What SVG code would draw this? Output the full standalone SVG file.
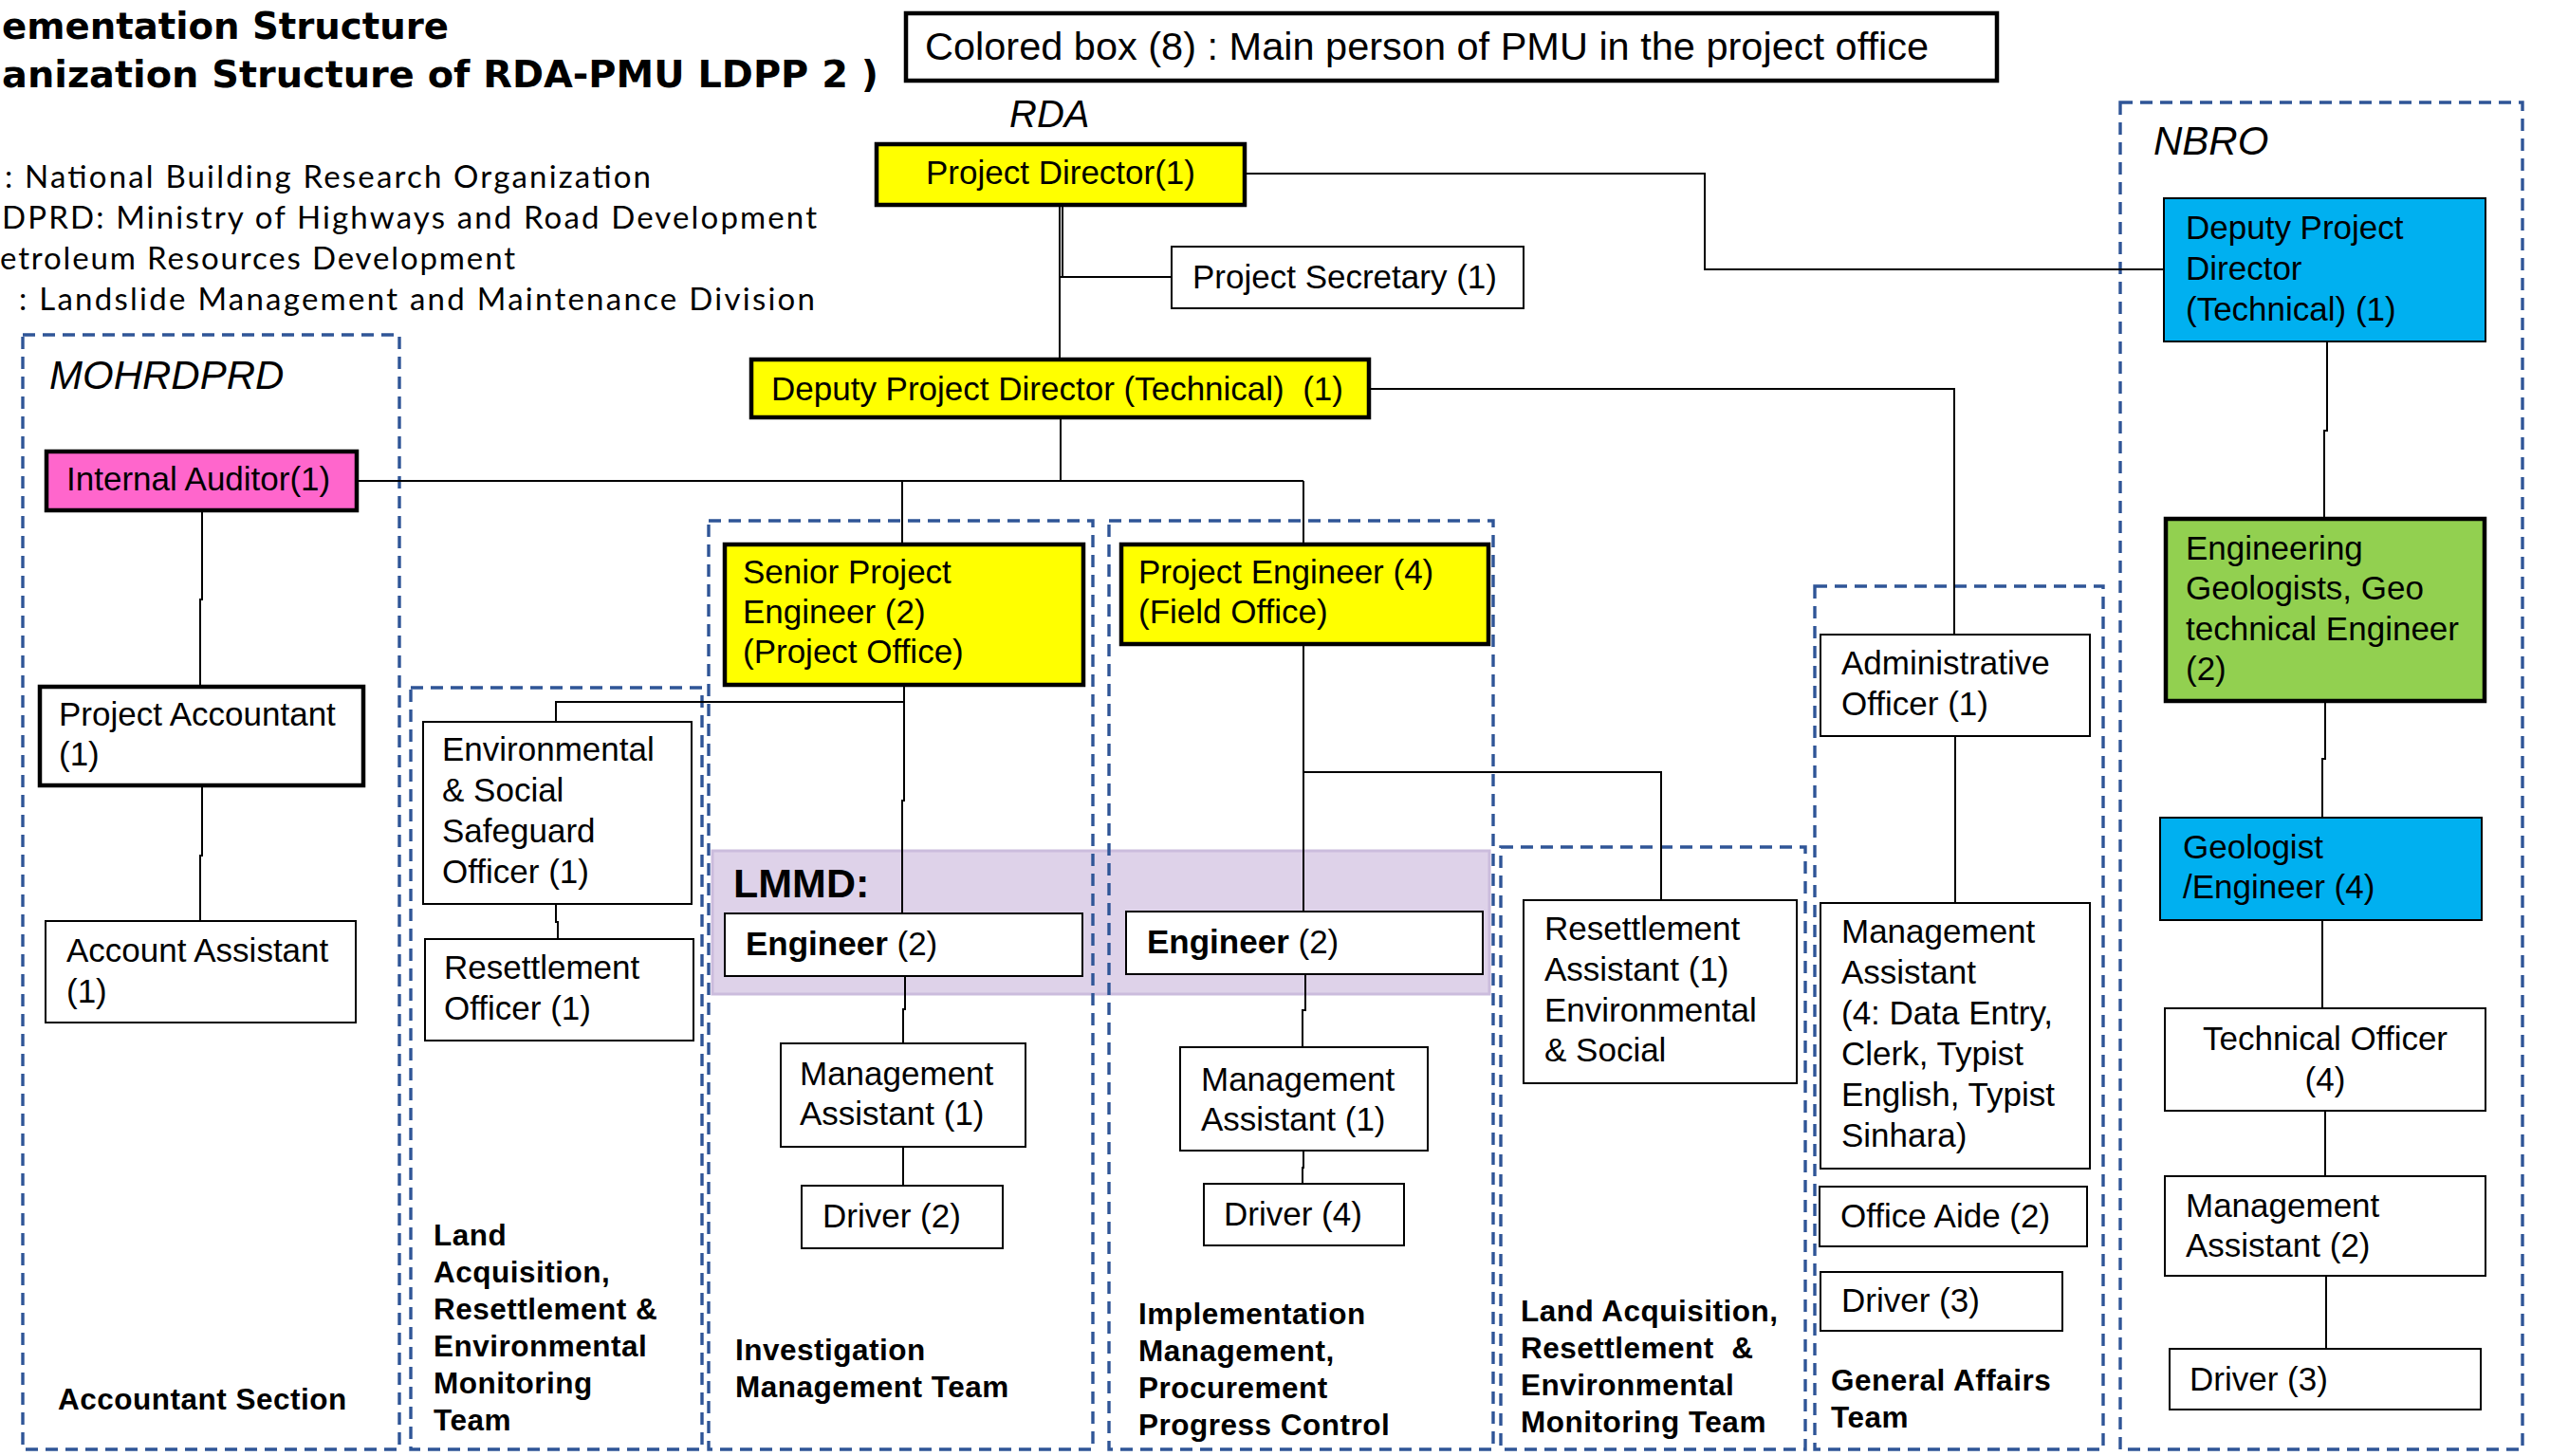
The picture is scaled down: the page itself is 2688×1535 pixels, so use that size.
<svg xmlns="http://www.w3.org/2000/svg" width="2688" height="1535" viewBox="0 0 2688 1535">
  <style>
    .box { fill: #ffffff; stroke: #000000; stroke-width: 2; }
    .thick { stroke-width: 4.5; }
    .yellow { fill: #ffff00; }
    .pink { fill: #ff66cc; }
    .cyan { fill: #00b0f0; }
    .green { fill: #92d050; }
    .dash { fill: none; stroke: #2f5597; stroke-width: 3.4; stroke-dasharray: 13 8; }
    .wire { fill: none; stroke: #000000; stroke-width: 2; }
    .t { font-family: "Liberation Sans", Arial, sans-serif; font-size: 35px; fill: #000000; }
    .b { font-weight: bold; }
    .team { font-family: "Liberation Sans", Arial, sans-serif; font-size: 31.5px; font-weight: bold; letter-spacing: 0.5px; fill: #000000; }
    .org { font-family: "Liberation Sans", Arial, sans-serif; font-size: 42px; font-style: italic; fill: #000000; }
    .title { font-family: "DejaVu Sans", "Noto Sans", sans-serif; font-size: 39px; font-weight: bold; fill: #000000; }
    .abbr { font-family: Lato, "Noto Sans", sans-serif; font-size: 33px; font-weight: normal; fill: #000000; }
  </style>

  <rect width="2688" height="1535" fill="#ffffff"/>

  <!-- heading and abbreviations -->
  <g id="heading">
    <text class="title" x="2" y="41" textLength="471" lengthAdjust="spacingAndGlyphs">ementation Structure</text>
    <text class="title" x="2" y="92" textLength="924" lengthAdjust="spacingAndGlyphs">anization Structure of RDA-PMU LDPP 2 )</text>
    <text class="abbr" x="5" y="198" textLength="681" lengthAdjust="spacing">: National Building Research Organization</text>
    <text class="abbr" x="2" y="241" textLength="859" lengthAdjust="spacing">DPRD: Ministry of Highways and Road Development</text>
    <text class="abbr" x="0" y="284" textLength="543" lengthAdjust="spacing">etroleum Resources Development</text>
    <text class="abbr" x="20" y="327" textLength="839" lengthAdjust="spacing">: Landslide Management and Maintenance Division</text>
  </g>

  <g id="legend">
    <rect class="box thick" x="955" y="14" width="1150" height="71"/>
    <text class="t" x="975" y="63" style="font-size:41.5px">Colored box (8) : Main person of PMU in the project office</text>
  </g>

  <!-- LMMD band behind the engineer boxes -->
  <g id="lmmd-band">
    <rect x="751" y="897" width="819" height="151" fill="#dcd0e8" stroke="#cbbcdd" stroke-width="3" fill-opacity="0.95"/>
    <text class="t b" x="773" y="946" style="font-size:43px">LMMD:</text>
  </g>

  <!-- organisation / team frames -->
  <g id="frames">
    <rect id="frame-mohrdprd" class="dash" x="24" y="353" width="397" height="1175"/>
    <rect id="frame-land-1" class="dash" x="433" y="725" width="307" height="803"/>
    <rect id="frame-investigation" class="dash" x="747" y="549" width="405" height="979"/>
    <rect id="frame-implementation" class="dash" x="1169" y="549" width="405" height="979"/>
    <rect id="frame-land-2" class="dash" x="1582" y="893" width="321" height="635"/>
    <rect id="frame-general" class="dash" x="1913" y="618" width="304" height="910"/>
    <rect id="frame-nbro" class="dash" x="2235" y="108" width="424" height="1420"/>
    <text class="org" x="1064" y="134" style="font-size:40px">RDA</text>
    <text class="org" x="52" y="410">MOHRDPRD</text>
    <text class="org" x="2270" y="163">NBRO</text>
  </g>

  <g id="connectors" class="wire">
    <path d="M1120 218V292"/>
    <path d="M1117 218V377"/>
    <path d="M1118 292H1235"/>
    <path d="M1314 183H1797V284H2281"/>
    <path d="M1445 410H2060V669"/>
    <path d="M1118 442V507"/>
    <path d="M378 507H1374"/>
    <path d="M951 507V572"/>
    <path d="M1374 507V572"/>
    <path d="M953 724V844H951V963"/>
    <path d="M953 740H586V761"/>
    <path d="M586 953V972H588V990"/>
    <path d="M213 540V632H211V722"/>
    <path d="M213 830V902H211V970"/>
    <path d="M954 1029V1064H952V1100"/>
    <path d="M952 1209V1250"/>
    <path d="M1374 681V961"/>
    <path d="M1374 814H1751V949"/>
    <path d="M1376 1027V1065H1373V1104"/>
    <path d="M1374 1213V1231H1373V1248"/>
    <path d="M2061 776V952"/>
    <path d="M2453 360V454H2450V545"/>
    <path d="M2451 741V800H2448V862"/>
    <path d="M2448 970V1063"/>
    <path d="M2451 1171V1240"/>
    <path d="M2452 1345V1422"/>
  </g>

  <!-- RDA -->
  <g id="project-director">
    <rect class="box thick yellow" x="924" y="152" width="388" height="64"/>
    <text class="t" x="1118" y="194" text-anchor="middle">Project Director(1)</text>
  </g>
  <g id="project-secretary">
    <rect class="box" x="1235" y="260" width="371" height="65"/>
    <text class="t" x="1257" y="304">Project Secretary (1)</text>
  </g>
  <g id="deputy-director-rda">
    <rect class="box thick yellow" x="792" y="379" width="651" height="61"/>
    <text class="t" x="813" y="422" xml:space="preserve">Deputy Project Director (Technical)  (1)</text>
  </g>

  <!-- MOHRDPRD accountant section -->
  <g id="internal-auditor">
    <rect class="box thick pink" x="49" y="476" width="327" height="62"/>
    <text class="t" x="70" y="517">Internal Auditor(1)</text>
  </g>
  <g id="project-accountant">
    <rect class="box thick" x="42" y="724" width="341" height="104"/>
    <text class="t" x="62" y="765">Project Accountant</text>
    <text class="t" x="62" y="807">(1)</text>
  </g>
  <g id="account-assistant">
    <rect class="box" x="48" y="971" width="327" height="107"/>
    <text class="t" x="70" y="1014">Account Assistant</text>
    <text class="t" x="70" y="1057">(1)</text>
  </g>
  <g id="label-accountant">
    <text class="team" x="61" y="1486">Accountant Section</text>
  </g>

  <!-- land acquisition monitoring (office) -->
  <g id="env-social-officer">
    <rect class="box" x="446" y="761" width="283" height="192"/>
    <text class="t" x="466" y="802">Environmental</text>
    <text class="t" x="466" y="845">&amp; Social</text>
    <text class="t" x="466" y="888">Safeguard</text>
    <text class="t" x="466" y="931">Officer (1)</text>
  </g>
  <g id="resettlement-officer">
    <rect class="box" x="448" y="990" width="283" height="107"/>
    <text class="t" x="468" y="1032">Resettlement</text>
    <text class="t" x="468" y="1075">Officer (1)</text>
  </g>
  <g id="label-land-1">
    <text class="team" x="457" y="1313">Land</text>
    <text class="team" x="457" y="1352">Acquisition,</text>
    <text class="team" x="457" y="1391">Resettlement &amp;</text>
    <text class="team" x="457" y="1430">Environmental</text>
    <text class="team" x="457" y="1469">Monitoring</text>
    <text class="team" x="457" y="1508">Team</text>
  </g>

  <!-- investigation management team -->
  <g id="senior-project-engineer">
    <rect class="box thick yellow" x="764" y="574" width="378" height="148"/>
    <text class="t" x="783" y="615">Senior Project</text>
    <text class="t" x="783" y="657">Engineer (2)</text>
    <text class="t" x="783" y="699">(Project Office)</text>
  </g>
  <g id="engineer-investigation">
    <rect class="box" x="764" y="963" width="377" height="66"/>
    <text class="t" x="786" y="1007"><tspan class="b">Engineer</tspan> (2)</text>
  </g>
  <g id="management-assistant-investigation">
    <rect class="box" x="823" y="1100" width="258" height="109"/>
    <text class="t" x="843" y="1144">Management</text>
    <text class="t" x="843" y="1186">Assistant (1)</text>
  </g>
  <g id="driver-investigation">
    <rect class="box" x="845" y="1250" width="212" height="66"/>
    <text class="t" x="867" y="1294">Driver (2)</text>
  </g>
  <g id="label-investigation">
    <text class="team" x="775" y="1434">Investigation</text>
    <text class="team" x="775" y="1473">Management Team</text>
  </g>

  <!-- implementation team -->
  <g id="project-engineer">
    <rect class="box thick yellow" x="1182" y="574" width="387" height="105"/>
    <text class="t" x="1200" y="615">Project Engineer (4)</text>
    <text class="t" x="1200" y="657">(Field Office)</text>
  </g>
  <g id="engineer-implementation">
    <rect class="box" x="1187" y="961" width="376" height="66"/>
    <text class="t" x="1209" y="1005"><tspan class="b">Engineer</tspan> (2)</text>
  </g>
  <g id="management-assistant-implementation">
    <rect class="box" x="1244" y="1104" width="261" height="109"/>
    <text class="t" x="1266" y="1150">Management</text>
    <text class="t" x="1266" y="1192">Assistant (1)</text>
  </g>
  <g id="driver-implementation">
    <rect class="box" x="1269" y="1248" width="211" height="65"/>
    <text class="t" x="1290" y="1292">Driver (4)</text>
  </g>
  <g id="label-implementation">
    <text class="team" x="1200" y="1396">Implementation</text>
    <text class="team" x="1200" y="1435">Management,</text>
    <text class="team" x="1200" y="1474">Procurement</text>
    <text class="team" x="1200" y="1513">Progress Control</text>
  </g>

  <!-- land acquisition monitoring (field) -->
  <g id="resettlement-assistant">
    <rect class="box" x="1606" y="949" width="288" height="193"/>
    <text class="t" x="1628" y="991">Resettlement</text>
    <text class="t" x="1628" y="1034">Assistant (1)</text>
    <text class="t" x="1628" y="1077">Environmental</text>
    <text class="t" x="1628" y="1119">&amp; Social</text>
  </g>
  <g id="label-land-2">
    <text class="team" x="1603" y="1393">Land Acquisition,</text>
    <text class="team" x="1603" y="1432" xml:space="preserve">Resettlement  &amp;</text>
    <text class="team" x="1603" y="1471">Environmental</text>
    <text class="team" x="1603" y="1510">Monitoring Team</text>
  </g>

  <!-- general affairs team -->
  <g id="administrative-officer">
    <rect class="box" x="1919" y="669" width="284" height="107"/>
    <text class="t" x="1941" y="711">Administrative</text>
    <text class="t" x="1941" y="754">Officer (1)</text>
  </g>
  <g id="management-assistant-general">
    <rect class="box" x="1919" y="952" width="284" height="280"/>
    <text class="t" x="1941" y="994">Management</text>
    <text class="t" x="1941" y="1037">Assistant</text>
    <text class="t" x="1941" y="1080">(4: Data Entry,</text>
    <text class="t" x="1941" y="1123">Clerk, Typist</text>
    <text class="t" x="1941" y="1166">English, Typist</text>
    <text class="t" x="1941" y="1209">Sinhara)</text>
  </g>
  <g id="office-aide">
    <rect class="box" x="1918" y="1251" width="282" height="63"/>
    <text class="t" x="1940" y="1294">Office Aide (2)</text>
  </g>
  <g id="driver-general">
    <rect class="box" x="1919" y="1341" width="255" height="62"/>
    <text class="t" x="1941" y="1383">Driver (3)</text>
  </g>
  <g id="label-general">
    <text class="team" x="1930" y="1466">General Affairs</text>
    <text class="team" x="1930" y="1505">Team</text>
  </g>

  <!-- NBRO -->
  <g id="deputy-director-nbro">
    <rect class="box cyan" x="2281" y="209" width="339" height="151"/>
    <text class="t" x="2304" y="252">Deputy Project</text>
    <text class="t" x="2304" y="295">Director</text>
    <text class="t" x="2304" y="338">(Technical) (1)</text>
  </g>
  <g id="engineering-geologists">
    <rect class="box thick green" x="2283" y="547" width="336" height="192"/>
    <text class="t" x="2304" y="590">Engineering</text>
    <text class="t" x="2304" y="632">Geologists, Geo</text>
    <text class="t" x="2304" y="675">technical Engineer</text>
    <text class="t" x="2304" y="717">(2)</text>
  </g>
  <g id="geologist-engineer">
    <rect class="box cyan" x="2277" y="862" width="339" height="108"/>
    <text class="t" x="2301" y="905">Geologist</text>
    <text class="t" x="2301" y="947">/Engineer (4)</text>
  </g>
  <g id="technical-officer">
    <rect class="box" x="2282" y="1063" width="338" height="108"/>
    <text class="t" x="2451" y="1107" text-anchor="middle">Technical Officer</text>
    <text class="t" x="2451" y="1150" text-anchor="middle">(4)</text>
  </g>
  <g id="management-assistant-nbro">
    <rect class="box" x="2282" y="1240" width="338" height="105"/>
    <text class="t" x="2304" y="1283">Management</text>
    <text class="t" x="2304" y="1325">Assistant (2)</text>
  </g>
  <g id="driver-nbro">
    <rect class="box" x="2287" y="1422" width="328" height="64"/>
    <text class="t" x="2308" y="1466">Driver (3)</text>
  </g>
</svg>
